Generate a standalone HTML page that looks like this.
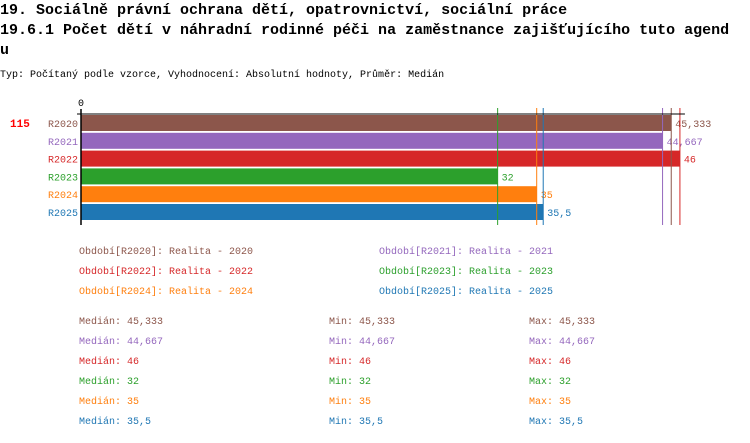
<!DOCTYPE html>
<html><head><meta charset="utf-8">
<style>
body{margin:0;background:#fff;width:750px;height:438px;overflow:hidden;font-family:"Liberation Mono",monospace;}
svg text{font-family:"Liberation Mono",monospace;}
</style></head><body>
<svg id="c" width="750" height="438" xmlns="http://www.w3.org/2000/svg">
<text x="0" y="14" font-size="15" font-weight="bold" fill="#000">19. Sociálně právní ochrana dětí, opatrovnictví, sociální práce</text>
<text x="0" y="34" font-size="15" font-weight="bold" fill="#000">19.6.1 Počet dětí v náhradní rodinné péči na zaměstnance zajišťujícího tuto agend</text>
<text x="0" y="54" font-size="15" font-weight="bold" fill="#000">u</text>
<text x="0" y="77" font-size="10" fill="#000">Typ: Počítaný podle vzorce, Vyhodnocení: Absolutní hodnoty, Průměr: Medián</text>
<text x="10" y="127" font-size="11" font-weight="bold" fill="#ff0000">115</text>
<text x="78" y="106" font-size="10" fill="#000">0</text>
<g id="bars"></g>
<g id="legend"></g>
<g id="stats"></g>
</svg>
<script>
const categories=["R2020","R2021","R2022","R2023","R2024","R2025"];
const values=[45.333,44.667,46,32,35,35.5];
const valueLabels=["45,333","44,667","46","32","35","35,5"];
const years=["2020","2021","2022","2023","2024","2025"];
const colors=["#8c564b","#9467bd","#d62728","#2ca02c","#ff7f0e","#1f77b4"];
const NS="http://www.w3.org/2000/svg";
const x0=81,scale=13.02,top0=115,pitch=17.8,bh=16;
const xs=v=>x0+v*scale;
const ys=i=>top0+i*pitch;
const bars=document.getElementById('bars');
function mk(tag,attrs,parent){const e=document.createElementNS(NS,tag);for(const k in attrs)e.setAttribute(k,attrs[k]);parent.appendChild(e);return e;}
const maxV=Math.max(...values);
categories.forEach((c,i)=>{
  const r=mk('rect',{x:x0,y:ys(i),width:xs(values[i])-x0,height:bh,fill:colors[i]},bars);
  
  
  const l=mk('text',{x:78,y:ys(i)+12,'font-size':10,fill:colors[i],'text-anchor':'end'},bars);l.textContent=c;
  
  
  const v=mk('text',{x:xs(values[i])+4,y:ys(i)+12,'font-size':10,fill:colors[i]},bars);v.textContent=valueLabels[i];
  
  
});
categories.forEach((c,i)=>{
  const ln=mk('line',{x1:xs(values[i]),x2:xs(values[i]),y1:108,y2:225,stroke:colors[i],'stroke-width':1},bars);
  
  
});
const ax=mk('line',{x1:x0,x2:x0,y1:109,y2:225,stroke:'#000','stroke-width':1.5},bars);


const tx=mk('line',{x1:x0-4,x2:xs(maxV)+5,y1:114,y2:114,stroke:'#000','stroke-width':1},bars);


const lg=document.getElementById('legend');
categories.forEach((c,i)=>{
  const t=mk('text',{x:i%2?379:79,y:254+Math.floor(i/2)*20,'font-size':10,fill:colors[i]},lg);
  t.textContent='Období['+c+']: Realita - '+years[i];
  
  
});
const st=document.getElementById('stats');
categories.forEach((c,i)=>{
  [['Medián: ',79],['Min: ',329],['Max: ',529]].forEach(([p,x])=>{
    const t=mk('text',{x:x,y:324+i*20,'font-size':10,fill:colors[i]},st);
    t.textContent=p+valueLabels[i];
    
    
  });
});
</script>
</body></html>
